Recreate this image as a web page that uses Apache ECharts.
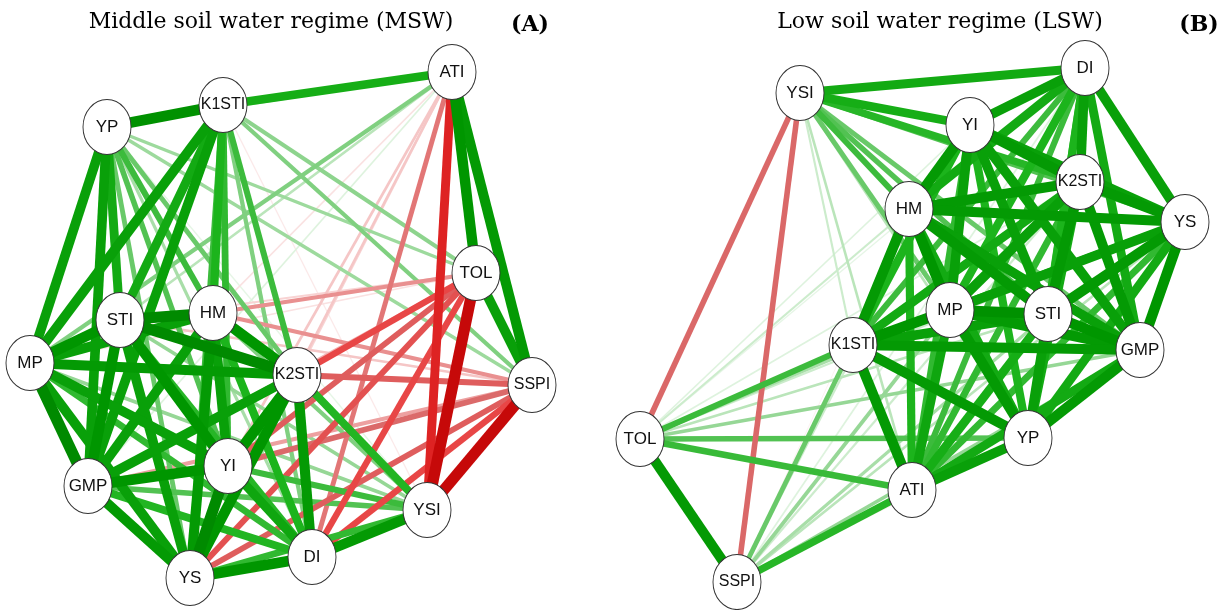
<!DOCTYPE html>
<html><head><meta charset="utf-8">
<script src="https://cdn.jsdelivr.net/npm/echarts@6/dist/echarts.min.js"></script>
<style>html,body{margin:0;padding:0;background:#fff}#c{width:1223px;height:610px}</style>
</head><body><div id="c"></div>
<script>
// ---------- Panel A: Middle soil water regime (MSW) ----------
const nodesA   = ['YP','K1STI','ATI','TOL','STI','HM','MP','K2STI','SSPI','YI','GMP','YSI','DI','YS'];
const layoutAX = [107, 223, 452, 476, 120, 213, 30, 297, 532, 228, 88, 427, 312, 190];
const layoutAY = [127, 105, 72, 273, 320, 313, 363, 375, 385, 466, 486, 510, 557, 578];
// correlations [from, to, r]
const edgesA = [
  ['YP','K1STI',0.92],['YP','ATI',0.3],['YP','TOL',0.38],['YP','STI',0.8],['YP','HM',0.6],['YP','MP',0.85],
  ['YP','K2STI',0.5],['YP','SSPI',0.38],['YP','YI',0.55],['YP','GMP',0.85],['YP','YSI',0.15],['YP','DI',0.35],['YP','YS',0.5],
  ['K1STI','ATI',0.78],['K1STI','TOL',0.42],['K1STI','STI',0.8],['K1STI','HM',0.75],['K1STI','MP',0.85],['K1STI','K2STI',0.6],
  ['K1STI','SSPI',0.45],['K1STI','YI',0.65],['K1STI','GMP',0.85],['K1STI','YSI',-0.15],['K1STI','DI',0.45],['K1STI','YS',0.6],
  ['ATI','TOL',0.9],['ATI','STI',0.3],['ATI','HM',-0.2],['ATI','MP',0.45],['ATI','K2STI',-0.25],['ATI','SSPI',0.88],
  ['ATI','YI',-0.3],['ATI','GMP',0.2],['ATI','YSI',-0.8],['ATI','DI',-0.5],['ATI','YS',-0.3],
  ['TOL','STI',-0.25],['TOL','HM',-0.45],['TOL','MP',-0.2],['TOL','K2STI',-0.62],['TOL','SSPI',0.85],['TOL','YI',-0.58],
  ['TOL','GMP',-0.38],['TOL','YSI',-0.95],['TOL','DI',-0.62],['TOL','YS',-0.6],
  ['STI','HM',0.95],['STI','MP',0.9],['STI','K2STI',0.95],['STI','SSPI',-0.3],['STI','YI',0.9],['STI','GMP',0.9],
  ['STI','YSI',0.4],['STI','DI',0.7],['STI','YS',0.85],
  ['HM','MP',0.85],['HM','K2STI',0.9],['HM','SSPI',-0.45],['HM','YI',0.85],['HM','GMP',0.85],['HM','YSI',0.45],
  ['HM','DI',0.75],['HM','YS',0.88],
  ['MP','K2STI',0.88],['MP','SSPI',-0.3],['MP','YI',0.85],['MP','GMP',0.95],['MP','YSI',0.4],['MP','DI',0.65],['MP','YS',0.85],
  ['K2STI','SSPI',-0.58],['K2STI','YI',0.9],['K2STI','GMP',0.85],['K2STI','YSI',0.72],['K2STI','DI',0.88],['K2STI','YS',0.9],
  ['SSPI','YI',-0.55],['SSPI','GMP',-0.42],['SSPI','YSI',-0.95],['SSPI','DI',-0.62],['SSPI','YS',-0.58],
  ['YI','GMP',0.9],['YI','YSI',0.6],['YI','DI',0.82],['YI','YS',0.95],
  ['GMP','YSI',0.55],['GMP','DI',0.72],['GMP','YS',0.88],
  ['YSI','DI',0.88],['YSI','YS',0.65],['DI','YS',0.9]
];

// ---------- Panel B: Low soil water regime (LSW) ----------
const nodesB   = ['DI','YSI','YI','K2STI','HM','YS','MP','STI','K1STI','GMP','TOL','YP','ATI','SSPI'];
const layoutBX = [1085, 800, 970, 1080, 909, 1185, 950, 1048, 853, 1140, 640, 1028, 912, 737];
const layoutBY = [68, 93, 125, 182, 209, 222, 310, 314, 345, 350, 439, 438, 490, 582];
const edgesB = [
  ['YSI','DI',0.8],['YSI','YI',0.78],['YSI','K2STI',0.7],['YSI','HM',0.6],['YSI','YS',0.55],['YSI','MP',0.5],
  ['YSI','STI',0.55],['YSI','GMP',0.5],['YSI','K1STI',0.25],['YSI','ATI',0.3],['YSI','YP',0.3],['YSI','TOL',-0.56],['YSI','SSPI',-0.56],
  ['DI','YI',0.85],['DI','K2STI',0.85],['DI','HM',0.8],['DI','YS',0.85],['DI','MP',0.75],['DI','STI',0.75],['DI','GMP',0.8],
  ['DI','K1STI',0.6],['DI','YP',0.7],['DI','ATI',0.6],['DI','TOL',0.15],['DI','SSPI',0.2],
  ['YI','K2STI',0.88],['YI','HM',0.88],['YI','YS',0.85],['YI','MP',0.85],['YI','STI',0.85],['YI','GMP',0.85],
  ['YI','K1STI',0.75],['YI','YP',0.75],['YI','ATI',0.65],['YI','TOL',0.2],['YI','SSPI',0.25],
  ['K2STI','HM',0.88],['K2STI','YS',0.88],['K2STI','MP',0.85],['K2STI','STI',0.88],['K2STI','GMP',0.88],
  ['K2STI','K1STI',0.8],['K2STI','YP',0.8],['K2STI','ATI',0.65],['K2STI','TOL',0.2],['K2STI','SSPI',0.25],
  ['HM','YS',0.88],['HM','MP',0.9],['HM','STI',0.88],['HM','GMP',0.85],['HM','K1STI',0.88],['HM','YP',0.8],
  ['HM','ATI',0.75],['HM','TOL',0.25],['HM','SSPI',-0.1],
  ['YS','MP',0.85],['YS','STI',0.88],['YS','GMP',0.9],['YS','K1STI',0.75],['YS','YP',0.8],['YS','ATI',0.65],['YS','TOL',0.25],['YS','SSPI',0.3],
  ['MP','STI',0.92],['MP','GMP',0.88],['MP','K1STI',0.9],['MP','YP',0.88],['MP','ATI',0.82],['MP','TOL',0.35],['MP','SSPI',0.4],
  ['STI','GMP',0.9],['STI','K1STI',0.85],['STI','YP',0.85],['STI','ATI',0.78],['STI','TOL',0.3],['STI','SSPI',0.35],
  ['K1STI','GMP',0.88],['K1STI','YP',0.88],['K1STI','ATI',0.88],['K1STI','TOL',0.6],['K1STI','SSPI',0.5],
  ['GMP','YP',0.88],['GMP','ATI',0.8],['GMP','TOL',0.4],['GMP','SSPI',0.4],
  ['YP','ATI',0.85],['YP','TOL',0.55],['YP','SSPI',-0.1],
  ['ATI','TOL',0.62],['ATI','SSPI',0.7],['TOL','SSPI',0.88]
];

const titles = ['Middle soil water regime (MSW)', 'Low soil water regime (LSW)'];
const panelTags = ['(A)', '(B)'];

// ---------- styling helpers ----------
const greenStops = [[0,[255,255,255]],[0.2,[222,243,222]],[0.4,[150,215,150]],[0.6,[60,187,60]],[0.75,[28,180,28]],[0.9,[0,150,0]],[1,[0,125,0]]];
const redStops   = [[0,[255,255,255]],[0.2,[250,225,225]],[0.4,[240,170,170]],[0.5,[226,118,118]],[0.56,[218,104,104]],[0.62,[232,70,70]],[0.8,[222,35,35]],[1,[190,0,0]]];
function interp(stops, t){
  for (let i=1;i<stops.length;i++){
    if (t <= stops[i][0]){
      const a=stops[i-1], b=stops[i], f=(t-a[0])/(b[0]-a[0]);
      const c=a[1].map((v,k)=>Math.round(v+(b[1][k]-v)*f));
      return 'rgb('+c.join(',')+')';
    }
  }
  const c=stops[stops.length-1][1]; return 'rgb('+c.join(',')+')';
}
function edgeColor(r){ return interp(r>=0?greenStops:redStops, Math.abs(r)); }
function edgeWidth(r){ return 0.5 + 11.5*Math.pow(Math.abs(r),1.4); }
function labelSize(name){ return name.length>=4 ? 16 : 17; }

function buildSeries(names, xs, ys, edges, box){
  const data = names.map((n,i)=>({name:n, x:xs[i], y:ys[i], label:{fontSize:labelSize(n)}}));
  const links = edges.slice().sort((a,b)=>Math.abs(a[2])-Math.abs(b[2])).map(e=>({
    source:e[0], target:e[1],
    lineStyle:{color:edgeColor(e[2]), width:edgeWidth(e[2]), opacity:1, curveness:0}
  }));
  return {
    type:'graph', layout:'none', roam:false, silent:true,
    left:box.left, top:box.top, width:box.width, height:box.height,
    symbol:'circle', symbolSize:[48,55],
    itemStyle:{color:'#ffffff', borderColor:'#333333', borderWidth:1},
    label:{show:true, position:'inside', color:'#111', fontFamily:'Liberation Sans, Arial, sans-serif', fontSize:17},
    emphasis:{disabled:true},
    data, links
  };
}

const chart = echarts.init(document.getElementById('c'), null, {renderer:'canvas'});
const titleFont = '22px "DejaVu Serif", serif';
const tagFont = 'bold 22px "DejaVu Serif", serif';
chart.setOption({
  backgroundColor:'#ffffff',
  animation:false,
  graphic:[
    {type:'text', x:271, y:22, style:{text:titles[0], font:titleFont, fill:'#000', textAlign:'center', textVerticalAlign:'middle'}},
    {type:'text', x:530, y:25, style:{text:panelTags[0], font:tagFont, fill:'#000', textAlign:'center', textVerticalAlign:'middle'}},
    {type:'text', x:940, y:22, style:{text:titles[1], font:titleFont, fill:'#000', textAlign:'center', textVerticalAlign:'middle'}},
    {type:'text', x:1199, y:25, style:{text:panelTags[1], font:tagFont, fill:'#000', textAlign:'center', textVerticalAlign:'middle'}}
  ],
  series:[
    buildSeries(nodesA, layoutAX, layoutAY, edgesA, {left:30, top:72, width:502, height:506}),
    buildSeries(nodesB, layoutBX, layoutBY, edgesB, {left:640, top:68, width:545, height:514})
  ]
});
</script></body></html>
